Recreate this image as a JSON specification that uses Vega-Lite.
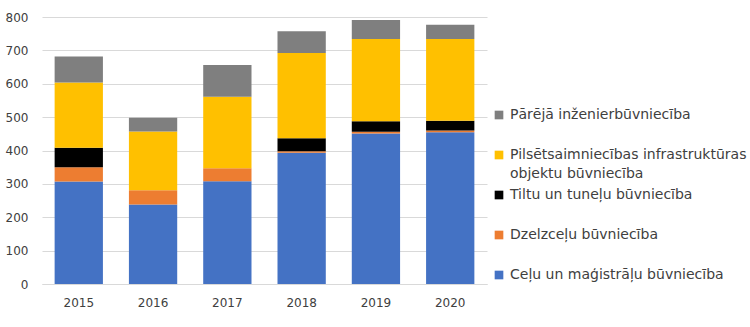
{
  "$schema": "https://vega.github.io/schema/vega-lite/v6.json",
  "width": 445,
  "height": 267,
  "autosize": {"type": "none"},
  "padding": {"left": 42, "top": 17, "right": 263, "bottom": 43},
  "background": "white",
  "config": {
    "font": "DejaVu Sans",
    "view": {"stroke": null}
  },
  "data": {
    "values": [
      {"year": "2015", "cat": "Ceļu un maģistrāļu būvniecība", "ord": 1, "value": 307},
      {"year": "2015", "cat": "Dzelzceļu būvniecība", "ord": 2, "value": 43},
      {"year": "2015", "cat": "Tiltu un tuneļu būvniecība", "ord": 3, "value": 58},
      {"year": "2015", "cat": "Pilsētsaimniecības infrastruktūras objektu būvniecība", "ord": 4, "value": 196},
      {"year": "2015", "cat": "Pārējā inženierbūvniecība", "ord": 5, "value": 78},
      {"year": "2016", "cat": "Ceļu un maģistrāļu būvniecība", "ord": 1, "value": 238},
      {"year": "2016", "cat": "Dzelzceļu būvniecība", "ord": 2, "value": 43},
      {"year": "2016", "cat": "Tiltu un tuneļu būvniecība", "ord": 3, "value": 0},
      {"year": "2016", "cat": "Pilsētsaimniecības infrastruktūras objektu būvniecība", "ord": 4, "value": 176},
      {"year": "2016", "cat": "Pārējā inženierbūvniecība", "ord": 5, "value": 41},
      {"year": "2017", "cat": "Ceļu un maģistrāļu būvniecība", "ord": 1, "value": 308},
      {"year": "2017", "cat": "Dzelzceļu būvniecība", "ord": 2, "value": 39},
      {"year": "2017", "cat": "Tiltu un tuneļu būvniecība", "ord": 3, "value": 0},
      {"year": "2017", "cat": "Pilsētsaimniecības infrastruktūras objektu būvniecība", "ord": 4, "value": 214},
      {"year": "2017", "cat": "Pārējā inženierbūvniecība", "ord": 5, "value": 95},
      {"year": "2018", "cat": "Ceļu un maģistrāļu būvniecība", "ord": 1, "value": 393},
      {"year": "2018", "cat": "Dzelzceļu būvniecība", "ord": 2, "value": 5},
      {"year": "2018", "cat": "Tiltu un tuneļu būvniecība", "ord": 3, "value": 39},
      {"year": "2018", "cat": "Pilsētsaimniecības infrastruktūras objektu būvniecība", "ord": 4, "value": 255},
      {"year": "2018", "cat": "Pārējā inženierbūvniecība", "ord": 5, "value": 65},
      {"year": "2019", "cat": "Ceļu un maģistrāļu būvniecība", "ord": 1, "value": 451},
      {"year": "2019", "cat": "Dzelzceļu būvniecība", "ord": 2, "value": 5},
      {"year": "2019", "cat": "Tiltu un tuneļu būvniecība", "ord": 3, "value": 32},
      {"year": "2019", "cat": "Pilsētsaimniecības infrastruktūras objektu būvniecība", "ord": 4, "value": 246},
      {"year": "2019", "cat": "Pārējā inženierbūvniecība", "ord": 5, "value": 57},
      {"year": "2020", "cat": "Ceļu un maģistrāļu būvniecība", "ord": 1, "value": 455},
      {"year": "2020", "cat": "Dzelzceļu būvniecība", "ord": 2, "value": 5},
      {"year": "2020", "cat": "Tiltu un tuneļu būvniecība", "ord": 3, "value": 29},
      {"year": "2020", "cat": "Pilsētsaimniecības infrastruktūras objektu būvniecība", "ord": 4, "value": 245},
      {"year": "2020", "cat": "Pārējā inženierbūvniecība", "ord": 5, "value": 43}
    ]
  },
  "mark": {"type": "bar"},
  "encoding": {
    "x": {
      "field": "year",
      "type": "nominal",
      "scale": {"paddingInner": 0.35, "paddingOuter": 0.17},
      "axis": {
        "title": null,
        "labelAngle": 0,
        "labelFontSize": 12,
        "labelColor": "#404040",
        "labelPadding": 13,
        "ticks": false,
        "domainColor": "#d9d9d9",
        "grid": false
      }
    },
    "y": {
      "field": "value",
      "type": "quantitative",
      "stack": "zero",
      "scale": {"domain": [0, 800]},
      "axis": {
        "title": null,
        "values": [0, 100, 200, 300, 400, 500, 600, 700, 800],
        "labelFontSize": 12,
        "labelColor": "#404040",
        "labelPadding": 14,
        "ticks": false,
        "domain": false,
        "gridColor": "#d9d9d9"
      }
    },
    "color": {
      "field": "cat",
      "type": "nominal",
      "scale": {
        "domain": ["Pārējā inženierbūvniecība", "Pilsētsaimniecības infrastruktūras objektu būvniecība", "Tiltu un tuneļu būvniecība", "Dzelzceļu būvniecība", "Ceļu un maģistrāļu būvniecība"],
        "range": ["#7f7f7f", "#ffc000", "#000000", "#ed7d31", "#4472c4"]
      },
      "legend": {
        "title": null,
        "orient": "none",
        "legendX": 450,
        "legendY": 91,
        "gridAlign": "all",
        "symbolType": "square",
        "symbolSize": 75,
        "symbolStrokeWidth": 0,
        "labelFontSize": 14,
        "labelColor": "#404040",
        "labelLimit": 400,
        "labelOffset": 4,
        "rowPadding": 7,
        "labelExpr": "datum.label == 'Pilsētsaimniecības infrastruktūras objektu būvniecība' ? ['Pilsētsaimniecības infrastruktūras', 'objektu būvniecība'] : datum.label",
        "encode": {
          "labels": {
            "update": {
              "lineHeight": {"value": 19}
            }
          }
        }
      }
    },
    "order": {"field": "ord", "type": "quantitative"}
  }
}
